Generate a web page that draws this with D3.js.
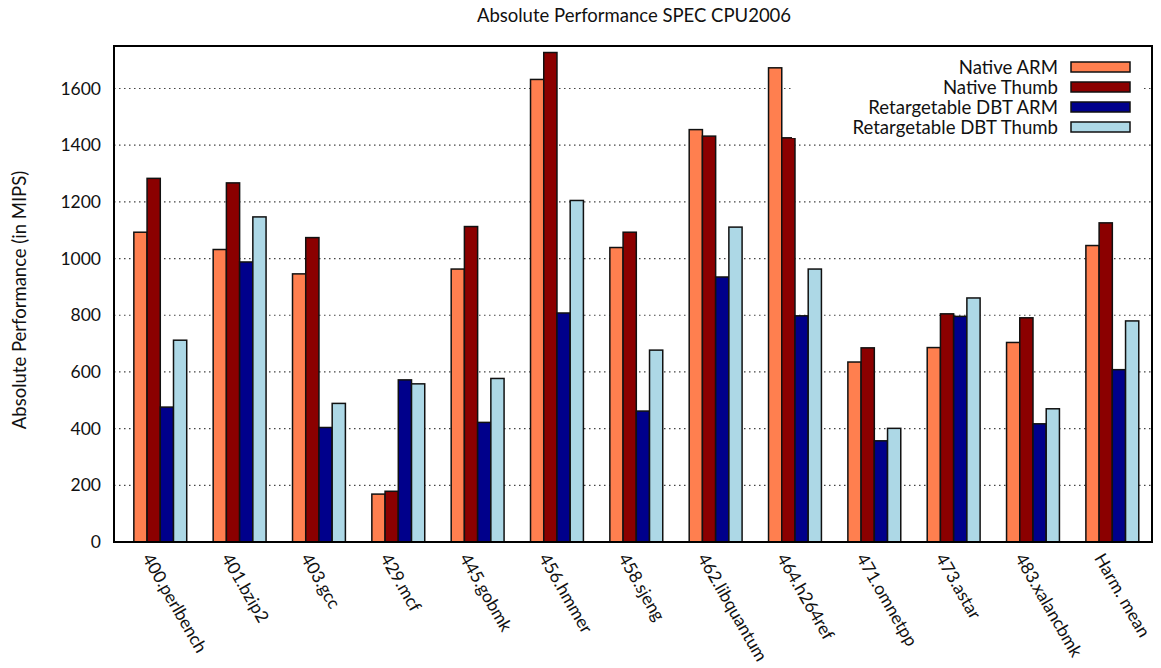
<!DOCTYPE html>
<html>
<head>
<meta charset="utf-8">
<script src="https://cdn.jsdelivr.net/npm/d3@7"></script>
<style>
  body { margin: 0; background: #fff; }
  text { font-family: Lato, "Open Sans", sans-serif; fill: #111; }
</style>
</head>
<body>
<svg id="chart" width="1161" height="668"></svg>
<script>
var benchmarks = ["400.perlbench", "401.bzip2", "403.gcc", "429.mcf", "445.gobmk", "456.hmmer",
  "458.sjeng", "462.libquantum", "464.h264ref", "471.omnetpp", "473.astar", "483.xalancbmk", "Harm. mean"];
var seriesNames = ["Native ARM", "Native Thumb", "Retargetable DBT ARM", "Retargetable DBT Thumb"];
var nativeArm   = [1093, 1032, 946, 169, 963, 1632, 1039, 1455, 1673, 635, 686, 704, 1046];
var nativeThumb = [1283, 1267, 1074, 179, 1113, 1727, 1093, 1432, 1426, 685, 805, 791, 1126];
var dbtArm      = [476, 988, 404, 572, 422, 808, 462, 935, 798, 357, 796, 417, 608];
var dbtThumb    = [712, 1147, 489, 558, 577, 1205, 677, 1111, 963, 401, 861, 470, 780];
var yTicks = [0, 200, 400, 600, 800, 1000, 1200, 1400, 1600];
var colors = ["#ff7f4f", "#8b0000", "#00008b", "#add8e6"];

var series = [nativeArm, nativeThumb, dbtArm, dbtThumb];

var svg = d3.select("#chart");
var mLeft = 114, mRight = 1152, mTop = 46, mBottom = 542;

// each cluster = 4 bars + 2 bar-widths of gap
var slots = 6;
var x = d3.scaleLinear().domain([-1.5, (benchmarks.length - 1) * slots + 5]).range([mLeft, mRight]);
var y = d3.scaleLinear().domain([0, 1750]).range([mBottom, mTop]);
var bw = x(1) - x(0);

// grid
svg.append("g").selectAll("line")
  .data(yTicks.filter(function(d) { return d > 0; }))
  .enter().append("line")
  .attr("x1", mLeft).attr("x2", mRight)
  .attr("y1", function(d) { return y(d); })
  .attr("y2", function(d) { return y(d); })
  .attr("stroke", "#444").attr("stroke-width", 1.2)
  .attr("stroke-dasharray", "1.5,3.5");

// bars
var flat = [];
series.forEach(function(s, j) {
  s.forEach(function(v, i) { flat.push({ i: i, j: j, v: v }); });
});
svg.append("g").selectAll("rect")
  .data(flat)
  .enter().append("rect")
  .attr("x", function(d) { return x(d.i * slots + d.j); })
  .attr("width", bw)
  .attr("y", function(d) { return y(d.v); })
  .attr("height", function(d) { return y(0) - y(d.v); })
  .attr("fill", function(d) { return colors[d.j]; })
  .attr("stroke", "#111").attr("stroke-width", 1.5);

// legend (opaque box)
var lg = svg.append("g");
lg.append("rect").attr("x", 792).attr("y", 50).attr("width", 350).attr("height", 88).attr("fill", "#fff");
seriesNames.forEach(function(name, k) {
  var cy = 67 + k * 20;
  lg.append("text").attr("x", 1058).attr("y", cy).attr("dy", "0.36em")
    .attr("text-anchor", "end").style("font-size", "18.6px").text(name);
  lg.append("rect").attr("x", 1071).attr("y", cy - 5).attr("width", 59).attr("height", 10)
    .attr("fill", colors[k]).attr("stroke", "#111").attr("stroke-width", 1.5);
});

// frame
svg.append("rect").attr("x", mLeft).attr("y", mTop).attr("width", mRight - mLeft).attr("height", mBottom - mTop)
  .attr("fill", "none").attr("stroke", "#000").attr("stroke-width", 2);

// y axis labels
var yAxis = d3.axisLeft(y).tickValues(yTicks).tickFormat(d3.format("d")).tickSize(0).tickPadding(13);
svg.append("g").attr("transform", "translate(" + mLeft + ",0)").call(yAxis)
  .call(function(g) { g.select(".domain").remove(); })
  .selectAll("text").style("font-size", "17.5px").style("font-family", "Lato, sans-serif").attr("fill", "#111");

// x labels, rotated
svg.append("g").selectAll("text")
  .data(benchmarks)
  .enter().append("text")
  .attr("transform", function(d, i) {
    return "translate(" + (x(i * slots + 1.5) - 12) + "," + 558 + ") rotate(60)";
  })
  .attr("text-anchor", "start")
  .style("font-size", "17.5px")
  .text(function(d) { return d; });

// title
svg.append("text").attr("x", 634).attr("y", 22).attr("text-anchor", "middle")
  .style("font-size", "18.5px").text("Absolute Performance SPEC CPU2006");

// y title
svg.append("text").attr("transform", "translate(26,300) rotate(-90)").attr("text-anchor", "middle")
  .style("font-size", "18.5px").text("Absolute Performance (in MIPS)");
</script>
</body>
</html>
